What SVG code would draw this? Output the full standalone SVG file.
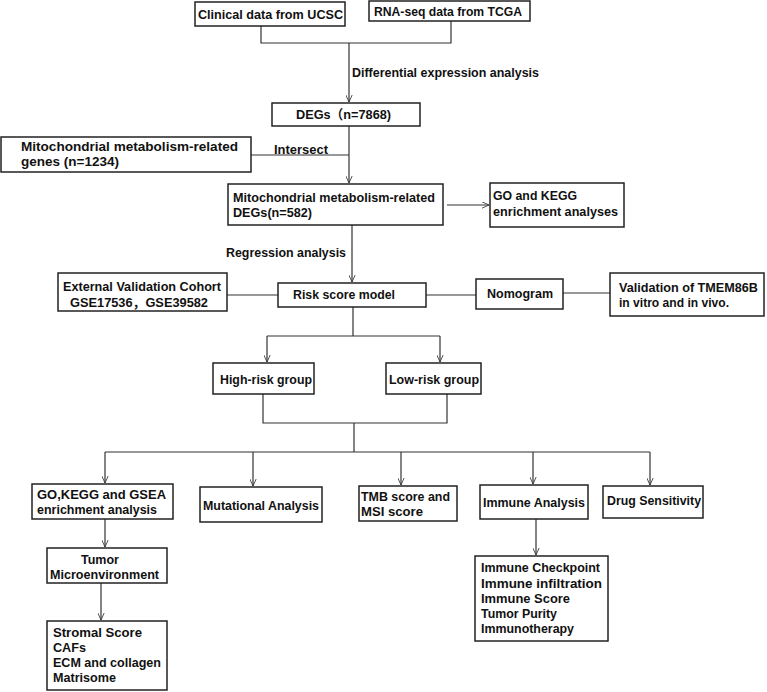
<svg xmlns="http://www.w3.org/2000/svg" width="767" height="692" viewBox="0 0 767 692">
<style>
.box{fill:#fff;stroke:#222;stroke-width:1.5}
.t{font-family:"Liberation Sans",Arial,"Noto Sans CJK SC",sans-serif;font-size:13px;font-weight:bold;fill:#111}
.ln{stroke:#333;stroke-width:1.2;fill:none}
</style>
<defs>
<marker id="arr" viewBox="0 0 10 10" refX="10" refY="5" markerWidth="7" markerHeight="7" orient="auto" markerUnits="userSpaceOnUse">
<path d="M0,0.5 L10,5 L0,9.5" fill="none" stroke="#333" stroke-width="1.2"/>
</marker>
</defs>
<rect width="767" height="692" fill="#fff"/>
<g id="connectors">
<path class="ln" d="M261,26 V43 H451 V21"/>
<path class="ln" d="M349,43 V102" marker-end="url(#arr)"/>
<path class="ln" d="M349,126 V183" marker-end="url(#arr)"/>
<path class="ln" d="M251,155 H349"/>
<path class="ln" d="M447,205 H489" marker-end="url(#arr)"/>
<path class="ln" d="M352,225 V282" marker-end="url(#arr)"/>
<path class="ln" d="M227,295 H278"/>
<path class="ln" d="M426,295 H476"/>
<path class="ln" d="M563,293 H610"/>
<path class="ln" d="M353,307 V336 M267,336 H440"/>
<path class="ln" d="M267,336 V362" marker-end="url(#arr)"/>
<path class="ln" d="M440,336 V362" marker-end="url(#arr)"/>
<path class="ln" d="M263,394 V423 H447 V394"/>
<path class="ln" d="M354,423 V452 M105,452 H650"/>
<path class="ln" d="M105,452 V483" marker-end="url(#arr)"/>
<path class="ln" d="M253,452 V486" marker-end="url(#arr)"/>
<path class="ln" d="M401,452 V485" marker-end="url(#arr)"/>
<path class="ln" d="M533,452 V484" marker-end="url(#arr)"/>
<path class="ln" d="M650,452 V485" marker-end="url(#arr)"/>
<path class="ln" d="M105,519 V547" marker-end="url(#arr)"/>
<path class="ln" d="M101,583 V620" marker-end="url(#arr)"/>
<path class="ln" d="M536,519 V555" marker-end="url(#arr)"/>
</g>
<g id="clinical">
<rect class="box" x="195" y="2" width="150" height="24"/>
<text class="t" x="198" y="19" textLength="145" lengthAdjust="spacingAndGlyphs">Clinical data from UCSC</text>
</g>
<g id="rnaseq">
<rect class="box" x="369" y="1" width="161" height="20"/>
<text class="t" x="374" y="16" textLength="148" lengthAdjust="spacingAndGlyphs">RNA-seq data from TCGA</text>
</g>
<g id="label-diff">
<text class="t" x="352" y="77" textLength="187" lengthAdjust="spacingAndGlyphs">Differential expression analysis</text>
</g>
<g id="degs">
<rect class="box" x="272" y="103" width="148" height="23"/>
<text class="t" x="296" y="119" textLength="95" lengthAdjust="spacingAndGlyphs">DEGs（n=7868)</text>
</g>
<g id="mito-genes">
<rect class="box" x="1" y="137" width="250" height="35"/>
<text class="t" x="21" y="151" textLength="217" lengthAdjust="spacingAndGlyphs">Mitochondrial metabolism-related</text>
<text class="t" x="21" y="166" textLength="98" lengthAdjust="spacingAndGlyphs">genes (n=1234)</text>
</g>
<g id="label-intersect">
<text class="t" x="274" y="154" textLength="54" lengthAdjust="spacingAndGlyphs">Intersect</text>
</g>
<g id="mito-degs">
<rect class="box" x="228" y="184" width="215" height="41"/>
<text class="t" x="233" y="202" textLength="202" lengthAdjust="spacingAndGlyphs">Mitochondrial metabolism-related</text>
<text class="t" x="233" y="217" textLength="79" lengthAdjust="spacingAndGlyphs">DEGs(n=582)</text>
</g>
<g id="go-kegg">
<rect class="box" x="490" y="183" width="134" height="44"/>
<text class="t" x="493" y="200" textLength="84" lengthAdjust="spacingAndGlyphs">GO and KEGG</text>
<text class="t" x="493" y="216" textLength="125" lengthAdjust="spacingAndGlyphs">enrichment analyses</text>
</g>
<g id="label-regression">
<text class="t" x="226" y="257" textLength="120" lengthAdjust="spacingAndGlyphs">Regression analysis</text>
</g>
<g id="risk">
<rect class="box" x="278" y="283" width="148" height="24"/>
<text class="t" x="293" y="299" textLength="102" lengthAdjust="spacingAndGlyphs">Risk score model</text>
</g>
<g id="external">
<rect class="box" x="58" y="273" width="169" height="38"/>
<text class="t" x="63" y="291" textLength="158" lengthAdjust="spacingAndGlyphs">External Validation Cohort</text>
<text class="t" x="70" y="307" textLength="138" lengthAdjust="spacingAndGlyphs">GSE17536，GSE39582</text>
</g>
<g id="nomogram">
<rect class="box" x="476" y="279" width="87" height="30"/>
<text class="t" x="487" y="298" textLength="66" lengthAdjust="spacingAndGlyphs">Nomogram</text>
</g>
<g id="validation">
<rect class="box" x="610" y="273" width="154" height="43"/>
<text class="t" x="619" y="292" style="font-size:12.5px" textLength="139" lengthAdjust="spacingAndGlyphs">Validation of TMEM86B</text>
<text class="t" x="619" y="307" style="font-size:12.5px" textLength="110" lengthAdjust="spacingAndGlyphs">in vitro and in vivo.</text>
</g>
<g id="high-risk">
<rect class="box" x="213" y="363" width="101" height="31"/>
<text class="t" x="220" y="384" textLength="92" lengthAdjust="spacingAndGlyphs">High-risk group</text>
</g>
<g id="low-risk">
<rect class="box" x="386" y="363" width="95" height="31"/>
<text class="t" x="389" y="384" textLength="90" lengthAdjust="spacingAndGlyphs">Low-risk group</text>
</g>
<g id="go-gsea">
<rect class="box" x="32" y="484" width="141" height="35"/>
<text class="t" x="37" y="499" textLength="129" lengthAdjust="spacingAndGlyphs">GO,KEGG and GSEA</text>
<text class="t" x="37" y="514" textLength="120" lengthAdjust="spacingAndGlyphs">enrichment analysis</text>
</g>
<g id="mutational">
<rect class="box" x="200" y="487" width="122" height="35"/>
<text class="t" x="203" y="510" textLength="116" lengthAdjust="spacingAndGlyphs">Mutational Analysis</text>
</g>
<g id="tmb">
<rect class="box" x="359" y="486" width="98" height="35"/>
<text class="t" x="361" y="501" textLength="89" lengthAdjust="spacingAndGlyphs">TMB score and</text>
<text class="t" x="361" y="516" textLength="62" lengthAdjust="spacingAndGlyphs">MSI score</text>
</g>
<g id="immune">
<rect class="box" x="480" y="485" width="108" height="34"/>
<text class="t" x="483" y="507" textLength="102" lengthAdjust="spacingAndGlyphs">Immune Analysis</text>
</g>
<g id="drug">
<rect class="box" x="603" y="486" width="100" height="32"/>
<text class="t" x="607" y="505" textLength="94" lengthAdjust="spacingAndGlyphs">Drug Sensitivity</text>
</g>
<g id="tumor">
<rect class="box" x="47" y="548" width="120" height="35"/>
<text class="t" x="81" y="564" textLength="38" lengthAdjust="spacingAndGlyphs">Tumor</text>
<text class="t" x="50" y="579" textLength="109" lengthAdjust="spacingAndGlyphs">Microenvironment</text>
</g>
<g id="stromal">
<rect class="box" x="47" y="621" width="120" height="69"/>
<text class="t" x="53" y="637" textLength="89" lengthAdjust="spacingAndGlyphs">Stromal Score</text>
<text class="t" x="53" y="652" textLength="33" lengthAdjust="spacingAndGlyphs">CAFs</text>
<text class="t" x="53" y="667" textLength="108" lengthAdjust="spacingAndGlyphs">ECM and collagen</text>
<text class="t" x="53" y="682" textLength="63" lengthAdjust="spacingAndGlyphs">Matrisome</text>
</g>
<g id="immune-list">
<rect class="box" x="475" y="556" width="133" height="85"/>
<text class="t" x="481" y="572" textLength="119" lengthAdjust="spacingAndGlyphs">Immune Checkpoint</text>
<text class="t" x="481" y="588" textLength="121" lengthAdjust="spacingAndGlyphs">Immune infiltration</text>
<text class="t" x="481" y="603" textLength="89" lengthAdjust="spacingAndGlyphs">Immune Score</text>
<text class="t" x="481" y="618" textLength="76" lengthAdjust="spacingAndGlyphs">Tumor Purity</text>
<text class="t" x="481" y="633" textLength="93" lengthAdjust="spacingAndGlyphs">Immunotherapy</text>
</g>
</svg>
